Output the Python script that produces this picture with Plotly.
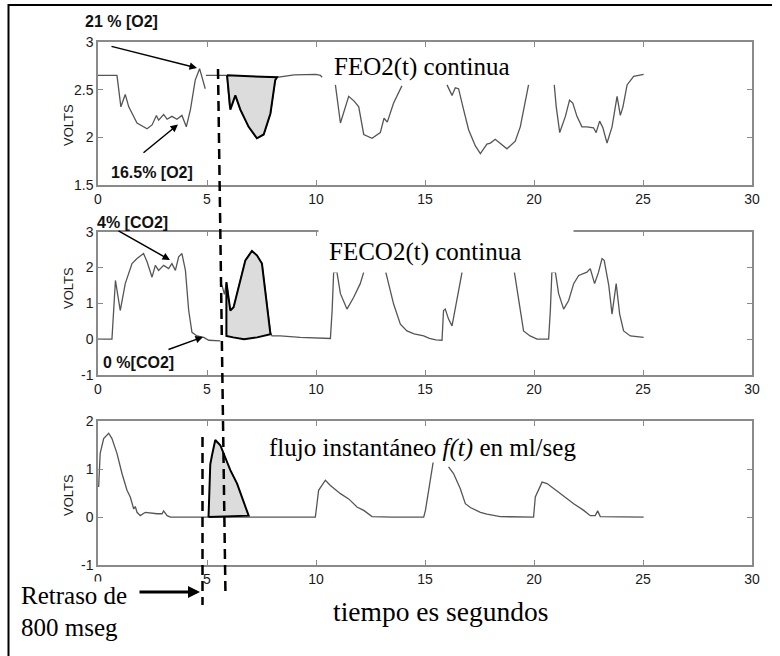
import plotly.graph_objects as go
from plotly.subplots import make_subplots

# ---------------- data (time in s, volts) ----------------
o2_t = [0, 0.87, 1.05, 1.25, 1.41, 1.79, 2.25, 2.48, 2.68, 2.78, 3.01, 3.17, 3.39, 3.62, 3.85, 4.05, 4.24, 4.46, 4.66, 4.77, 4.92,
        None,
        4.95, 5.92, 6.04, 6.30, 6.53, 6.91, 7.29, 7.60, 7.91, 8.13, 8.21, 9.0, 10.0, 10.2, 10.28,
        None,
        10.89, 11.12, 11.5, 11.75, 11.96, 12.19, 12.57, 12.95, 13.12, 13.27, 13.56, 13.94,
        None,
        16.01, 16.24, 16.39, 16.54, 16.77, 17.0, 17.31, 17.54, 17.84, 18.0, 18.22, 18.45, 18.76, 19.14, 19.37, 19.75,
        None,
        20.93, 21.02, 21.18, 21.44, 21.63, 21.78, 21.97, 22.2, 22.43, 22.73, 22.85, 23.01, 23.16, 23.35, 23.58, 23.81, 23.96, 24.08, 24.27, 24.57, 25.03]
o2_v = [2.65, 2.65, 2.32, 2.45, 2.32, 2.15, 2.09, 2.13, 2.23, 2.18, 2.24, 2.19, 2.22, 2.19, 2.23, 2.11, 2.29, 2.60, 2.72, 2.62, 2.51,
        None,
        2.65, 2.65, 2.31, 2.44, 2.29, 2.11, 1.99, 2.03, 2.25, 2.60, 2.63, 2.655, 2.66, 2.65, 2.63,
        None,
        2.55, 2.15, 2.43, 2.38, 2.32, 2.03, 1.99, 2.05, 2.20, 2.16, 2.36, 2.54,
        None,
        2.55, 2.44, 2.52, 2.51, 2.29, 2.08, 1.91, 1.83, 1.93, 1.94, 1.98, 1.94, 1.88, 1.96, 2.11, 2.55,
        None,
        2.55, 2.32, 2.05, 2.22, 2.39, 2.36, 2.22, 2.11, 2.11, 2.10, 2.05, 2.17, 2.10, 1.94, 2.11, 2.43, 2.23, 2.32, 2.55, 2.64, 2.66]

o2_area_t = [5.92, 6.00, 6.07, 6.30, 6.53, 6.91, 7.29, 7.60, 7.91, 8.13, 8.21, 5.92]
o2_area_v = [2.65, 2.45, 2.29, 2.44, 2.29, 2.11, 1.99, 2.03, 2.25, 2.60, 2.63, 2.65]

co2_t = [0, 0.64, 0.80, 1.02, 1.25, 1.56, 1.79, 2.09, 2.25, 2.48, 2.63, 2.78, 3.01, 3.24, 3.39, 3.55, 3.70, 3.85, 4.01, 4.16, 4.31, 4.54, 4.85, 5.08, 5.61,
         None,
         5.69, 5.80, 5.89, 5.99, 6.07, 6.22, 6.45, 6.76, 7.06, 7.29, 7.52, 7.68, 7.91, 7.98, 8.36, 9.28, 10.0, 10.66, 10.74, 10.81, 10.96, 11.12, 11.42, 11.73, 12.03, 12.19,
         None,
         13.2, 13.4, 13.56, 13.87, 14.17, 14.5, 14.94, 15.2, 15.5, 15.78, 15.85, 15.93, 16.08, 16.24, 16.47, 16.7,
         None,
         19.1, 19.3, 19.52, 19.82, 20.14, 20.67, 20.75, 20.82, 20.98, 21.13, 21.36, 21.59, 21.82, 22.05, 22.28, 22.43, 22.58, 22.78, 22.96, 23.12, 23.22, 23.43, 23.58, 23.77, 23.93, 24.11, 24.42, 25.03]
co2_v = [0, 0, 1.64, 0.80, 1.55, 2.11, 2.25, 2.39, 2.16, 1.73, 2.06, 1.92, 2.06, 1.97, 2.11, 1.92, 2.30, 2.39, 1.92, 0.80, 0.19, 0.09, 0.05, -0.03, -0.05,
         None,
         1.50, 1.25, 1.59, 1.08, 0.80, 0.89, 1.45, 2.20, 2.46, 2.34, 2.11, 1.27, 0.19, 0.09, 0.09, 0.05, 0.03, 0.02, 0.80, 1.87, 1.87, 1.27, 0.84, 1.17, 1.55, 1.87,
         None,
         1.87, 1.40, 0.98, 0.42, 0.23, 0.15, 0.09, 0.02, -0.02, -0.03, 0.80, 0.84, 0.56, 0.37, 1.17, 1.87,
         None,
         1.87, 1.08, 0.23, 0.09, 0.0, 0.0, 0.80, 1.87, 1.87, 1.27, 0.84, 1.08, 1.55, 1.78, 1.83, 1.87, 1.97, 1.55, 1.87, 2.25, 2.20, 1.50, 0.70, 1.55, 0.70, 0.23, 0.09, 0.05]

co2_area_t = [5.89, 5.99, 6.07, 6.22, 6.45, 6.76, 7.06, 7.29, 7.52, 7.68, 7.91, 7.91, 7.30, 6.70, 6.20, 5.89, 5.89]
co2_area_v = [1.59, 1.08, 0.80, 0.89, 1.45, 2.20, 2.46, 2.34, 2.11, 1.27, 0.19, 0.14, 0.05, 0.0, 0.05, 0.09, 1.59]

flow_t = [0.03, 0.1, 0.26, 0.49, 0.64, 0.87, 1.1, 1.33, 1.48, 1.64, 1.71, 1.79, 1.94, 2.17, 2.71, 2.94, 3.01, 3.17, 3.32, 4.0, 4.77, 5.08, 6.91, 8.0, 9.97,
          10.12, 10.43, 10.66, 11.12, 11.5, 11.88, 12.19, 12.57, 13.5, 14.94, 15.02, 15.24, 15.39,
          None,
          16.08, 16.31, 16.62, 16.85, 17.08, 17.54, 17.84, 18.45, 19.98, 20.06, 20.37, 20.6, 21.13, 21.44, 21.82, 22.28, 22.58, 22.81, 22.92, 23.04, 25.03]
flow_v = [0.63, 1.33, 1.64, 1.75, 1.64, 1.33, 0.91, 0.56, 0.42, 0.17, 0.22, 0.10, 0.03, 0.10, 0.07, 0.07, 0.13, 0.03, 0.0, 0.0, 0.0, 0.0, 0.0, 0.0, 0.0,
          0.56, 0.77, 0.66, 0.49, 0.38, 0.21, 0.14, 0.01, 0.0, 0.0, 0.14, 0.80, 1.19,
          None,
          1.05, 0.91, 0.59, 0.28, 0.20, 0.10, 0.06, 0.01, 0.0, 0.42, 0.73, 0.70, 0.52, 0.41, 0.28, 0.14, 0.03, 0.03, 0.13, 0.01, 0.0]

flow_area_t = [5.07, 5.15, 5.23, 5.38, 5.61, 5.76, 6.07, 6.38, 6.61, 6.91, 5.07]
flow_area_v = [0.0, 1.10, 1.29, 1.61, 1.50, 1.33, 0.98, 0.70, 0.42, 0.03, 0.0]

x_ticks = [0, 5, 10, 15, 20, 25, 30]
y1_ticks = [1.5, 2, 2.5, 3]
y1_labels = ["1.5", "2", "2.5", "3"]
y2_ticks = [-1, 0, 1, 2, 3]
y2_labels = ["-1", "0", "1", "2", "3"]
y3_ticks = [-1, 0, 1, 2]
y3_labels = ["-1", "0", "1", "2"]

# ---------------- layout helpers ----------------
W, H = 780, 656
ML, MR, MT, MB = 98, 28, 42, 91
PW, PH = W - ML - MR, H - MT - MB


def px(x):
    return (x - ML) / PW


def py(y):
    return (H - MB - y) / PH


SERIF = "Liberation Serif"
SANS = "Liberation Sans"
LINE_GRAY = "#555555"
FRAME = "#8a8a8a"

fig = make_subplots(rows=3, cols=1)

fig.add_trace(go.Scatter(x=o2_t, y=o2_v, mode="lines", line=dict(color=LINE_GRAY, width=1.3),
                         connectgaps=False, hoverinfo="skip"), row=1, col=1)
fig.add_trace(go.Scatter(x=o2_area_t, y=o2_area_v, mode="lines", fill="toself", fillcolor="#dcdcdc",
                         line=dict(color="black", width=2)), row=1, col=1)
fig.add_trace(go.Scatter(x=co2_t, y=co2_v, mode="lines", line=dict(color=LINE_GRAY, width=1.3),
                         connectgaps=False), row=2, col=1)
fig.add_trace(go.Scatter(x=co2_area_t, y=co2_area_v, mode="lines", fill="toself", fillcolor="#dcdcdc",
                         line=dict(color="black", width=2)), row=2, col=1)
fig.add_trace(go.Scatter(x=flow_t, y=flow_v, mode="lines", line=dict(color=LINE_GRAY, width=1.3),
                         connectgaps=False), row=3, col=1)
fig.add_trace(go.Scatter(x=flow_area_t, y=flow_area_v, mode="lines", fill="toself", fillcolor="#dcdcdc",
                         line=dict(color="black", width=2)), row=3, col=1)

domains = [[py(185), 1.0], [py(375), py(231.7)], [0.0, py(421.3)]]
yticks = [(y1_ticks, y1_labels, [1.5, 3]), (y2_ticks, y2_labels, [-1, 3]), (y3_ticks, y3_labels, [-1, 2])]

axis_common = dict(showline=True, linecolor=FRAME, linewidth=1.5, mirror="ticks", ticks="inside",
                   ticklen=5, tickcolor=FRAME, tickwidth=1.2, showgrid=False, zeroline=False,
                   tickfont=dict(family=SANS, size=14, color="#1a1a1a"))

for i in range(3):
    xa = "xaxis" if i == 0 else f"xaxis{i+1}"
    ya = "yaxis" if i == 0 else f"yaxis{i+1}"
    fig.layout[xa].update(range=[0, 30], tickvals=x_ticks, ticktext=[str(v) for v in x_ticks], **axis_common)
    tv, tl, rg = yticks[i]
    fig.layout[ya].update(range=rg, tickvals=tv, ticktext=tl, domain=domains[i], **axis_common)

annotations = []

# white box behind FECO2 title (hides part of the frame like the original)
annotations.append(dict(xref="paper", yref="paper", x=px(318), y=py(228), xanchor="left", yanchor="top",
                        text=" ", showarrow=False, width=254, height=43, bgcolor="white", borderpad=0))

titles = [
    ("FEO2(t) continua", 333, 67, 25, True),
    ("FECO2(t) continua", 328, 252, 25, True),
    ("flujo instantáneo <i>f(t)</i> en ml/seg", 268, 448, 25, True),
    ("tiempo es segundos", 332, 611, 27.5, False),
    ("Retraso de", 20, 595, 25, True),
    ("800 mseg", 20, 627, 25, False),
]
for txt, x, y, s, bg in titles:
    annotations.append(dict(xref="paper", yref="paper", x=px(x), y=py(y), xanchor="left", yanchor="middle",
                            text=txt, showarrow=False, font=dict(family=SERIF, size=s, color="black"),
                            bgcolor="white" if bg else None, borderpad=0))

labels = [
    ("21 % [O2]", 83, 22),
    ("16.5% [O2]", 109, 172),
    ("4% [CO2]", 95, 222),
    ("0 %[CO2]", 101, 362),
]
for txt, x, y in labels:
    annotations.append(dict(xref="paper", yref="paper", x=px(x), y=py(y), xanchor="left", yanchor="middle",
                            text=f"<b>{txt}</b>", showarrow=False, font=dict(family=SANS, size=16, color="#111")))

for y in [125, 288, 495]:
    annotations.append(dict(xref="paper", yref="paper", x=px(68), y=py(y), xanchor="center", yanchor="middle",
                            text="VOLTS", textangle=-90, showarrow=False,
                            font=dict(family=SANS, size=13, color="#1a1a1a")))

arrows = [
    (197, 68, 110, 46, 1.5),
    (178, 124.5, 142, 154, 1.5),
    (170, 260, 117, 230, 1.5),
    (203, 337, 167, 350, 1.5),
    (200, 592, 138, 592, 3),
]
for hx, hy, tx, ty, w in arrows:
    annotations.append(dict(xref="paper", yref="paper", x=px(hx), y=py(hy), ax=tx - hx, ay=ty - hy,
                            text="", showarrow=True, arrowhead=2, arrowsize=1 if w < 2 else 0.8,
                            arrowwidth=w, arrowcolor="black"))

shapes = [
    dict(type="line", xref="paper", yref="paper", x0=px(218), y0=py(69), x1=px(225.5), y1=py(597),
         line=dict(color="black", width=2.5, dash="10px,6px")),
    dict(type="line", xref="paper", yref="paper", x0=px(202.5), y0=py(437), x1=px(202.5), y1=py(605),
         line=dict(color="black", width=2.5, dash="10px,6px")),
    dict(type="path", xref="paper", yref="paper",
         path=f"M {px(8.5)} {py(656)} L {px(8.5)} {py(5)} L {px(772)} {py(5)}",
         line=dict(color="black", width=2)),
]

fig.update_layout(width=W, height=H, margin=dict(l=ML, r=MR, t=MT, b=MB), showlegend=False,
                  plot_bgcolor="white", paper_bgcolor="white", annotations=annotations, shapes=shapes)

fig.write_html("out.html", config={"displayModeBar": False},
               post_script="document.body.style.margin='0';document.body.style.overflow='hidden';")
